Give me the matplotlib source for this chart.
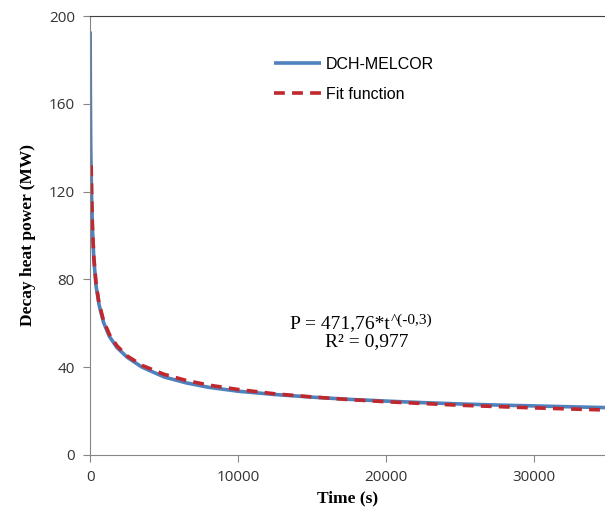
import matplotlib
matplotlib.use("Agg")
import matplotlib.pyplot as plt

# DCH-MELCOR decay heat
t_melcor = [0, 15, 40, 70, 100, 150, 250, 400, 600, 900, 1300, 1800, 2500,
            3500, 5000, 6500, 8000, 10000, 12500, 15000, 17500, 20000,
            22500, 25000, 27500, 30000, 32500, 35000]
p_melcor = [193, 165, 140, 128, 117, 104, 89, 77, 68.5, 60.5, 54, 49, 44.5,
            40, 35.5, 32.8, 30.8, 29.0, 27.5, 26.3, 25.3, 24.5,
            23.8, 23.2, 22.7, 22.3, 21.9, 21.5]

# fit function curve
t_fit = [70, 100, 150, 250, 400, 600, 900, 1300, 1800, 2500, 3500, 5000,
         6500, 8000, 10000, 12500, 15000, 17500, 20000, 22500, 25000,
         27500, 30000, 32500, 35000]
p_fit = [132, 118.5, 105, 90, 78.2, 69.2, 61.3, 54.9, 49.8, 45.1, 40.8, 36.7,
         33.9, 31.8, 29.8, 27.8, 26.4, 25.2, 24.2, 23.4, 22.6,
         22.0, 21.4, 20.9, 20.4]

xticks = [0, 10000, 20000, 30000]
yticks = [0, 40, 80, 120, 160, 200]

fig = plt.figure(figsize=(6.05, 5.21), dpi=100)
ax = fig.add_axes([0.149, 0.127, 0.851, 0.842])

ax.plot(t_melcor, p_melcor, color="#4F81BD", lw=2.6, label="DCH-MELCOR",
        solid_capstyle="butt")
ax.plot(t_fit, p_fit, color="#C0282D", lw=2.6, ls=(0, (3, 2)),
        label="Fit function")

ax.set_xlim(0, 34800)
ax.set_ylim(0, 200)
ax.set_xticks(xticks)
ax.set_yticks(yticks)

for s in ["left", "bottom"]:
    ax.spines[s].set_color("#868686")
ax.spines["top"].set_color("#404040")
ax.spines["right"].set_visible(False)
ax.tick_params(direction="out", length=5, color="#868686", labelsize=11,
               labelcolor="#333333", pad=6)
for lab in ax.get_xticklabels() + ax.get_yticklabels():
    lab.set_family("Open Sans")

ax.set_xlabel("Time (s)", family="Liberation Serif", fontweight="bold",
              fontsize=12.5, labelpad=4)
ax.set_ylabel("Decay heat power (MW)", family="Liberation Serif",
              fontweight="bold", fontsize=12.5, labelpad=9)

leg = ax.legend(loc="upper left", bbox_to_anchor=(0.33, 0.94), frameon=False,
                handlelength=2.9, handletextpad=0.3, labelspacing=0.95,
                prop={"family": "Liberation Sans", "size": 11.5})

main = fig.text(290 / 605, 1 - 328 / 521, "P = 471,76*t",
                family="Liberation Serif", fontsize=14, va="baseline")
ax.annotate("^(-0,3)", xy=(1, 1), xycoords=main, xytext=(1, 1),
            textcoords="offset points", family="Liberation Serif",
            fontsize=11, va="top", ha="left")
fig.text(367 / 605, 1 - 346 / 521, "R² = 0,977", family="Liberation Serif",
         fontsize=14, va="baseline", ha="center")

fig.savefig("out.png", dpi=100)
